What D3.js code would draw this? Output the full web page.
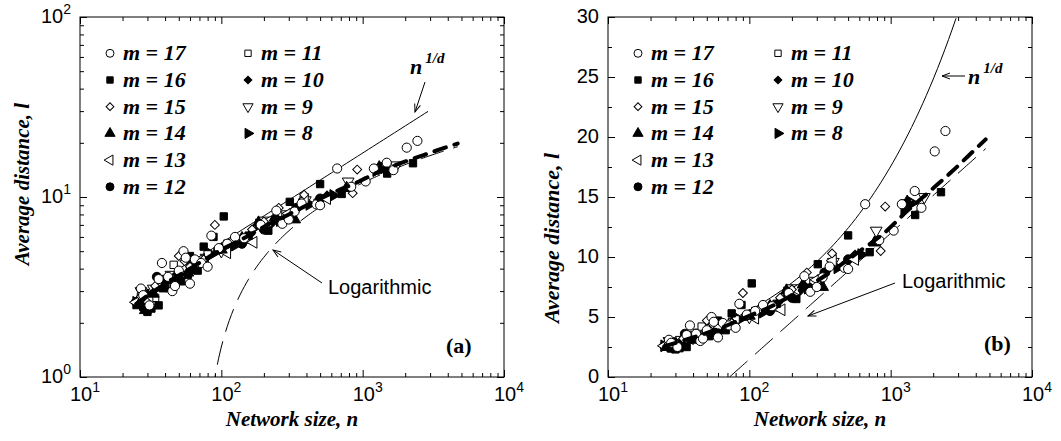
<!DOCTYPE html>
<html>
<head>
<meta charset="utf-8">
<script src="https://cdn.jsdelivr.net/npm/d3@7"></script>
<style>
body { margin: 0; background: #fff; }
text { fill: #000; }
</style>
</head>
<body>
<svg id="chart" width="1061" height="441"></svg>
<script>
// data: [network size n, average distance l] for each m
var m17 = [[27,3.1],[28,2.85],[31,2.5],[36,3.5],[38,4.3],[42,3.6],[45,3.0],[47,3.2],[50,3.9],[54,5.0],[56,4.6],[60,3.3],[65,4.5],[72,4.3],[80,4.1],[85,6.1],[96,5.2],[110,5.5],[125,6.0],[145,5.9],[190,7.0],[245,8.4],[270,7.1],[300,7.5],[330,8.3],[370,9.2],[470,9.1],[500,9.0],[660,14.4],[830,11.4],[1050,12.2],[1200,14.4],[1480,15.5],[1650,14.1],[2050,18.8],[2440,20.5]];
var m16 = [[28,2.45],[30,2.3],[32,2.4],[36,2.5],[40,3.3],[46,3.2],[52,3.4],[58,3.7],[60,4.7],[68,3.9],[75,5.3],[88,6.0],[104,7.8],[130,5.6],[156,6.1],[215,6.5],[305,9.4],[500,11.8],[710,10.4],[1490,13.5],[2270,15.4]];
var m15 = [[27,2.8],[30,2.6],[34,3.2],[42,3.5],[50,4.7],[55,4.4],[60,4.1],[75,4.5],[90,7.0],[120,5.7],[165,6.6],[200,7.3],[255,8.7],[385,10.3],[850,10.5],[915,14.2]];
var m14 = [[26,2.5],[29,2.35],[33,2.9],[40,3.1],[48,3.5],[58,3.8],[75,4.4],[100,5.1],[140,5.9],[183,7.2],[240,7.7],[330,7.5],[480,9.4],[770,11.2],[1310,14.6]];
var m13 = [[25,2.6],[31,2.7],[38,3.2],[46,3.5],[56,4.0],[72,4.5],[110,4.9],[169,5.6],[215,7.3],[300,8.1],[390,9.7],[560,9.8]];
var m12 = [[25,2.6],[28,2.7],[35,3.6],[42,3.5],[50,3.5],[60,4.1],[75,4.4],[95,5.1],[140,5.5],[200,6.6],[340,8.7],[500,9.8]];
var m11 = [[27,2.8],[34,2.75],[40,3.5],[46,4.2],[58,4.0],[80,4.8],[110,5.5],[150,5.8],[210,6.9],[284,8.0],[320,8.2],[480,9.3]];
var m10 = [[25,2.6],[30,2.9],[38,3.3],[48,3.7],[62,4.3],[80,4.7],[115,5.4],[160,6.2],[230,7.2],[350,8.8],[560,10.2],[1300,14.3]];
var m9  = [[27,3.0],[33,3.1],[44,3.7],[58,4.3],[78,4.6],[100,5.0],[130,5.8],[200,7.4],[393,9.6],[790,12.2],[1300,14.5],[1730,15.0]];
var m8  = [[25,2.6],[30,2.8],[37,3.2],[48,3.5],[62,3.9],[85,4.8],[125,5.4],[185,7.0],[260,7.4],[420,9.1],[620,10.2],[1250,14.0],[1420,14.5]];

// thick dashed curve through the data
var fitCurve = [[25,2.55],[40,3.3],[60,4.0],[100,5.1],[150,6.0],[212,7.0],[300,8.0],[427,9.2],[622,10.6],[900,12.0],[1300,13.8],[1900,15.5],[2700,17.1],[3600,18.5],[4700,19.8]];

// model lines: l = c * n^(1/d) and l = a * (log10 n - b)
var powC = 0.555, powExp = 0.5, powRange = [23, 2900];
var logA = 10.5, logB = 1.86, logRange = [72.5, 4700];

var legendCol1 = [17, 16, 15, 14, 13, 12];
var legendCol2 = [11, 10, 9, 8];
var seriesData = {17: m17, 16: m16, 15: m15, 14: m14, 13: m13, 12: m12, 11: m11, 10: m10, 9: m9, 8: m8};
var drawOrder = [8, 9, 10, 11, 12, 13, 14, 15, 16, 17];

var logTicksX = [10, 100, 1000, 10000];
var logTicksY = [1, 10, 100];
var linTicksY = [0, 5, 10, 15, 20, 25, 30];

var symbols = {
  17: {type: d3.symbolCircle, fill: '#fff', rot: 0, size: 66},
  16: {type: d3.symbolSquare, fill: '#000', rot: 0, size: 54},
  15: {type: d3.symbolSquare, fill: '#fff', rot: 45, size: 40},
  14: {type: d3.symbolTriangle, fill: '#000', rot: 0, size: 60},
  13: {type: d3.symbolTriangle, fill: '#fff', rot: -90, size: 60},
  12: {type: d3.symbolCircle, fill: '#000', rot: 0, size: 66},
  11: {type: d3.symbolSquare, fill: '#fff', rot: 0, size: 54},
  10: {type: d3.symbolSquare, fill: '#000', rot: 45, size: 40},
  9:  {type: d3.symbolTriangle, fill: '#fff', rot: 180, size: 60},
  8:  {type: d3.symbolTriangle, fill: '#000', rot: 90, size: 60}
};

var svg = d3.select('#chart');
svg.append('rect').attr('width', 1061).attr('height', 441).attr('fill', '#fff');

var defs = svg.append('defs');
defs.append('marker').attr('id', 'arrow')
  .attr('viewBox', '-9 -5 10 10').attr('refX', 0).attr('refY', 0)
  .attr('markerWidth', 10).attr('markerHeight', 10)
  .attr('markerUnits', 'userSpaceOnUse').attr('orient', 'auto')
  .append('path').attr('d', 'M-8,-3L0,0L-8,3')
  .attr('fill', 'none').attr('stroke', '#000').attr('stroke-width', 1);

var serif = 'Liberation Serif, Times New Roman, serif';
var sans = 'Liberation Sans, Arial, sans-serif';

function logSamples(a, b, k) {
  return d3.range(k + 1).map(function(i) { return a * Math.pow(b / a, i / k); });
}

function drawMarker(g, m, x, y, scale) {
  var s = symbols[m];
  g.append('path')
    .attr('d', d3.symbol().type(s.type).size(s.size * (scale || 1))())
    .attr('transform', 'translate(' + x + ',' + y + ') rotate(' + s.rot + ')')
    .attr('fill', s.fill).attr('stroke', '#000').attr('stroke-width', 1);
}

function drawPanel(p) {
  var x0 = p.x0, x1 = p.x0 + 424, y0 = 17, y1 = 377;
  var x = d3.scaleLog().domain([10, 10000]).range([x0, x1]);
  var y = p.logY ? d3.scaleLog().domain([1, 100]).range([y1, y0])
                 : d3.scaleLinear().domain([0, 30]).range([y1, y0]);
  var g = svg.append('g');

  defs.append('clipPath').attr('id', p.id)
    .append('rect').attr('x', x0).attr('y', y0).attr('width', x1 - x0).attr('height', y1 - y0);

  // ticks: major and minor, drawn inward on all four sides
  var minorX = [];
  logTicksX.slice(0, 3).forEach(function(d) { for (var k = 2; k < 10; k++) minorX.push(d * k); });
  var majorY, minorY = [];
  if (p.logY) {
    majorY = logTicksY;
    logTicksY.slice(0, 2).forEach(function(d) { for (var k = 2; k < 10; k++) minorY.push(d * k); });
  } else {
    majorY = linTicksY;
    for (var v = 2.5; v < 30; v += 5) minorY.push(v);
  }
  function tickAxis(axis, tr, vals, len) {
    var a = g.append('g').attr('transform', tr)
      .call(axis.tickValues(vals).tickSize(-len).tickFormat(''));
    a.select('.domain').remove();
    a.selectAll('line').attr('stroke', '#000').attr('stroke-width', 1);
  }
  tickAxis(d3.axisBottom(x), 'translate(0,' + y1 + ')', logTicksX, 7);
  tickAxis(d3.axisBottom(x), 'translate(0,' + y1 + ')', minorX, 4);
  tickAxis(d3.axisTop(x), 'translate(0,' + y0 + ')', logTicksX, 7);
  tickAxis(d3.axisTop(x), 'translate(0,' + y0 + ')', minorX, 4);
  tickAxis(d3.axisLeft(y), 'translate(' + x0 + ',0)', majorY, 7);
  tickAxis(d3.axisLeft(y), 'translate(' + x0 + ',0)', minorY, 4);
  tickAxis(d3.axisRight(y), 'translate(' + x1 + ',0)', majorY, 7);
  tickAxis(d3.axisRight(y), 'translate(' + x1 + ',0)', minorY, 4);

  g.append('rect').attr('x', x0).attr('y', y0).attr('width', x1 - x0).attr('height', y1 - y0)
    .attr('fill', 'none').attr('stroke', '#000').attr('stroke-width', 1);

  // tick labels
  logTicksX.forEach(function(d) {
    var t = g.append('text').attr('x', x(d) + 5).attr('y', 401).attr('text-anchor', 'middle')
      .attr('font-family', sans).attr('font-size', 20);
    t.append('tspan').text('10');
    t.append('tspan').attr('dy', -9).attr('font-size', 14).text(Math.round(Math.log10(d)));
  });
  majorY.forEach(function(d) {
    var t = g.append('text').attr('x', x0 - 9).attr('y', y(d) + 6).attr('text-anchor', 'end')
      .attr('font-family', sans).attr('font-size', 20);
    if (p.logY) {
      t.append('tspan').text('10');
      t.append('tspan').attr('dy', -9).attr('font-size', 14).text(Math.round(Math.log10(d)));
    } else {
      t.text(d);
    }
  });

  // axis titles
  g.append('text').attr('x', x0 + 212).attr('y', 426).attr('text-anchor', 'middle')
    .attr('font-family', serif).attr('font-size', 21).attr('font-weight', 'bold')
    .attr('font-style', 'italic').text('Network size, n');
  g.append('text').attr('transform', 'translate(' + p.yTitleX + ',' + p.yTitleY + ') rotate(-90)')
    .attr('text-anchor', 'middle').attr('font-family', serif).attr('font-size', p.yTitleSize)
    .attr('font-weight', 'bold').attr('font-style', 'italic').text('Average distance, l');

  var plot = g.append('g').attr('clip-path', 'url(#' + p.id + ')');
  var line = d3.line().x(function(d) { return x(d[0]); }).y(function(d) { return y(d[1]); });

  // n^(1/d) thin solid line
  var powPts = logSamples(powRange[0], powRange[1], 80).map(function(n) { return [n, powC * Math.pow(n, powExp)]; });
  plot.append('path').attr('d', line(powPts)).attr('fill', 'none').attr('stroke', '#000').attr('stroke-width', 1);

  // logarithmic thin dashed line
  var logPts = logSamples(logRange[0], logRange[1], 120).map(function(n) { return [n, logA * (Math.log10(n) - logB)]; })
    .filter(function(d) { return p.logY ? d[1] > 0.3 : d[1] >= 0; });
  plot.append('path').attr('d', line(logPts)).attr('fill', 'none').attr('stroke', '#000')
    .attr('stroke-width', 1).attr('stroke-dasharray', '24,10');

  // markers
  drawOrder.forEach(function(m) {
    seriesData[m].forEach(function(d) { drawMarker(plot, m, x(d[0]), y(d[1])); });
  });

  // thick dashed curve
  plot.append('path').attr('d', line.curve(d3.curveMonotoneX)(fitCurve)).attr('fill', 'none')
    .attr('stroke', '#000').attr('stroke-width', 4).attr('stroke-linecap', 'round')
    .attr('stroke-dasharray', '12,9');

  // legend
  function legendCol(list, mx, tx) {
    list.forEach(function(m, i) {
      var cy = 53.3 + i * 26.7;
      drawMarker(g, m, mx, cy, 0.75);
      g.append('text').attr('x', tx).attr('y', cy + 7).attr('font-family', serif)
        .attr('font-size', 22).attr('font-weight', 'bold').attr('font-style', 'italic')
        .text('m = ' + m);
    });
  }
  legendCol(legendCol1, p.legX[0], p.legX[0] + 13);
  legendCol(legendCol2, p.legX[1], p.legX[1] + 13);

  // annotations
  var pw = g.append('text').attr('x', p.powText[0]).attr('y', p.powText[1]).attr('font-family', serif)
    .attr('font-weight', 'bold').attr('font-style', 'italic').attr('font-size', 22);
  pw.append('tspan').text('n');
  pw.append('tspan').attr('dx', 3).attr('dy', -11).attr('font-size', 15).text('1/d');
  g.append('line').attr('x1', p.powArrow[0]).attr('y1', p.powArrow[1])
    .attr('x2', p.powArrow[2]).attr('y2', p.powArrow[3])
    .attr('stroke', '#000').attr('stroke-width', 1).attr('marker-end', 'url(#arrow)');

  g.append('text').attr('x', p.logText[0]).attr('y', p.logText[1]).attr('font-family', sans)
    .attr('font-size', 20).text('Logarithmic');
  g.append('line').attr('x1', p.logArrow[0]).attr('y1', p.logArrow[1])
    .attr('x2', p.logArrow[2]).attr('y2', p.logArrow[3])
    .attr('stroke', '#000').attr('stroke-width', 1).attr('marker-end', 'url(#arrow)');

  g.append('text').attr('x', p.tag[0]).attr('y', p.tag[1]).attr('font-family', serif)
    .attr('font-weight', 'bold').attr('font-size', 22).text(p.label);
}

drawPanel({id: 'clipA', x0: 80, logY: true, label: '(a)', tag: [446, 353],
  yTitleX: 29, yTitleY: 184, yTitleSize: 21, legX: [110, 248],
  powText: [410, 74], powArrow: [425, 82, 415, 112],
  logText: [328, 294], logArrow: [322, 283, 273, 250]});

drawPanel({id: 'clipB', x0: 608, logY: false, label: '(b)', tag: [984, 351],
  yTitleX: 559, yTitleY: 238, yTitleSize: 22, legX: [638, 778],
  powText: [968, 84], powArrow: [965, 76, 942, 76],
  logText: [902, 288], logArrow: [895, 283, 808, 316]});
</script>
</body>
</html>
